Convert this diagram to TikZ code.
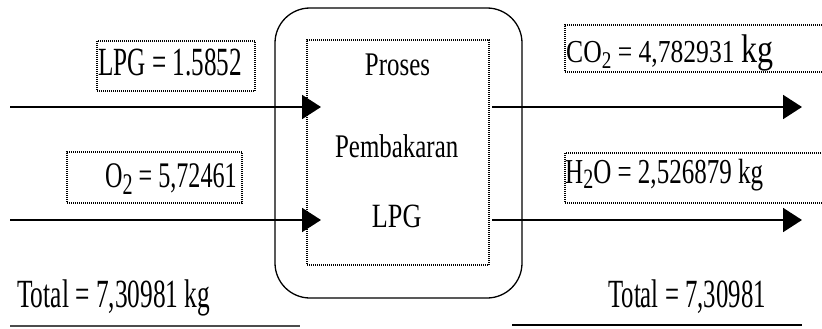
\documentclass[tikz,border=0pt]{standalone}
\usepackage{fontspec}
\setmainfont{Liberation Serif}
\usetikzlibrary{arrows.meta}
\newcommand{\cndtxt}[3]{\scalebox{#1}[1]{\fontsize{#2}{#2}\selectfont #3}}
\newcommand{\subtwo}[2]{\raisebox{-#1}{\fontsize{#2}{#2}\selectfont 2}}
\begin{document}
\begin{tikzpicture}[x=1pt,y=-1pt,
  dotbox/.style={draw, dash pattern=on 1pt off 1pt, line width=1.1pt, inner sep=0pt},
  flow/.style={line width=2pt, -{Triangle[length=19pt,width=24pt]}},
  lbl/.style={inner sep=0pt, anchor=base west},
  ctr/.style={inner sep=0pt, anchor=base},
  totline/.style={line width=2pt}
]
\useasboundingbox (0,0) rectangle (822,329);
% outer rounded process shape
\node[draw, line width=1.3pt, rounded corners=35pt, inner sep=0pt,
      minimum width=247pt, minimum height=290pt] (outer) at (398.5,153) {};
% inner dotted box
\node[dotbox, minimum width=182pt, minimum height=225pt] (proc) at (398,152.5) {};
% label boxes
\node[dotbox, minimum width=158pt, minimum height=50pt] (lpgbox) at (176,66) {};
\node[dotbox, minimum width=175pt, minimum height=51pt] (o2box) at (154.5,177.5) {};
\node[dotbox, minimum width=265pt, minimum height=47pt] (co2box) at (697.5,48.5) {};
\node[dotbox, minimum width=265pt, minimum height=50pt] (h2obox) at (697.5,178) {};
% texts
\node[lbl] (lpgtxt) at (98,75) {\cndtxt{0.63}{40pt}{LPG = 1.5852}};
\node[lbl] (o2txt) at (105,187) {\cndtxt{0.67}{36pt}{O\subtwo{7pt}{30pt} = 5,72461}};
\node[lbl] (co2txt) at (566,63) {\cndtxt{0.8}{32pt}{CO\subtwo{6pt}{24pt} = 4,782931 }\cndtxt{0.8}{40pt}{kg}};
\node[lbl] (h2otxt) at (565,183) {\cndtxt{0.715}{35pt}{H\subtwo{5pt}{28pt}O = 2,526879 kg}};
\node[ctr] (t1) at (397.5,75) {\cndtxt{0.755}{33pt}{Proses}};
\node[ctr] (t2) at (396.7,157) {\cndtxt{0.755}{33pt}{Pembakaran}};
\node[ctr] (t3) at (396.7,227) {\cndtxt{0.77}{34pt}{LPG}};
\node[lbl] (totl) at (17,307) {\cndtxt{0.635}{40pt}{Total = 7,30981 kg}};
\node[lbl] (totr) at (608,307) {\cndtxt{0.62}{40pt}{Total = 7,30981}};
% connector coordinates
\coordinate (inA) at (10,107);
\coordinate (inB) at (10,220);
\coordinate (tA) at (321,107);
\coordinate (tB) at (321,220);
\coordinate (oA) at (492,107);
\coordinate (oB) at (492,220);
\coordinate (eA) at (802,107);
\coordinate (eB) at (802,220);
\draw[flow] (inA) -- (tA);
\draw[flow] (inB) -- (tB);
\draw[flow] (oA) -- (eA);
\draw[flow] (oB) -- (eB);
% total underlines
\coordinate (ul1) at (10,326);
\coordinate (ul2) at (300,326);
\coordinate (ur1) at (512,325);
\coordinate (ur2) at (802,325);
\draw[totline, black!70] (ul1) -- (ul2);
\draw[totline] (ur1) -- (ur2);
\end{tikzpicture}
\end{document}
